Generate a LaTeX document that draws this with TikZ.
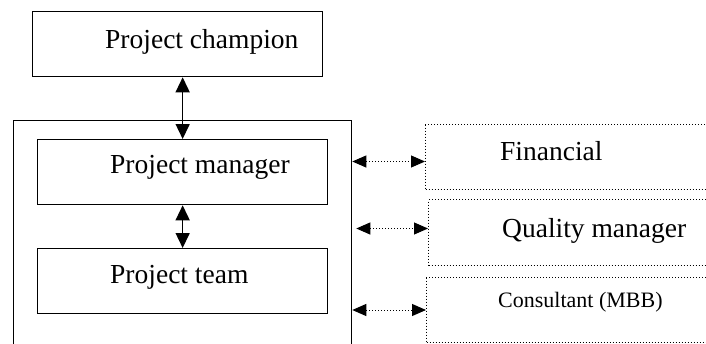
\documentclass[tikz,border=0pt]{standalone}
\usepackage{fontspec}
\setmainfont{Liberation Serif}
\usetikzlibrary{arrows.meta}

\tikzset{box/.style     = {draw, line width=1.3pt, anchor=north west, inner sep=0pt},
         dotbox/.style  = {draw, dotted, line width=1pt, anchor=north west, inner sep=0pt},
         txt/.style     = {anchor=base west, inner sep=0pt, font=\fontsize{27.5}{30}\selectfont},
         smalltxt/.style= {anchor=base west, inner sep=0pt, font=\fontsize{22}{26}\selectfont},
         link/.style    = {line width=1.5pt, {Triangle[width=14pt,length=15pt]}-{Triangle[width=14pt,length=15pt]}},
         dotlink/.style = {line width=1pt, dotted, {Triangle[width=12pt,length=14pt]}-{Triangle[width=12pt,length=14pt]}}}

\begin{document}
\begin{tikzpicture}[x=1pt,y=-1pt]

\useasboundingbox (0,0) rectangle (706,343);

% left column
\node[box, minimum width=290pt, minimum height=65pt] (champion) at (32,11) {};
\node[box, minimum width=338pt, minimum height=240pt] (frame) at (13,120) {};
\node[box, minimum width=290pt, minimum height=65pt] (manager) at (37,139) {};
\node[box, minimum width=290pt, minimum height=65pt] (team) at (37,248) {};

\node[txt] (championtext) at (105,48) {Project champion};
\node[txt] (managertext) at (110,173) {Project manager};
\node[txt] (teamtext) at (110,283) {Project team};

% right column
\node[dotbox, minimum width=290pt, minimum height=65pt] (financial) at (425,124) {};
\node[dotbox, minimum width=290pt, minimum height=66pt] (quality) at (428,199) {};
\node[dotbox, minimum width=290pt, minimum height=65pt] (consultant) at (426,277) {};

\node[txt] (financialtext) at (500,160) {Financial};
\node[txt] (qualitytext) at (502,237) {Quality manager};
\node[smalltxt] (consultanttext) at (498,307) {Consultant (MBB)};

% links
\draw[link] (champion.south -| manager.north) -- (manager.north);
\draw[link] (manager.south) -- (team.north);

\draw[dotlink] ([yshift=-4.5pt]frame.east |- financial.west) -- ([yshift=-4.5pt]financial.west);
\draw[dotlink] ([xshift=4pt,yshift=4pt]frame.east |- quality.west) -- ([yshift=4pt]quality.west);
\draw[dotlink] (frame.east |- consultant.west) -- (consultant.west);

\end{tikzpicture}
\end{document}
